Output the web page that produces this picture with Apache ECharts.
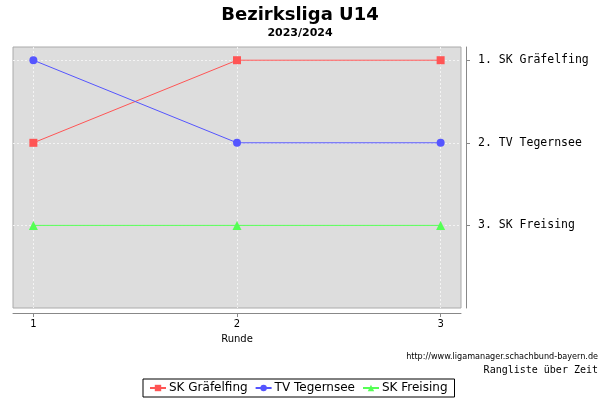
<!DOCTYPE html>
<html><head><meta charset="utf-8">
<script src="https://cdn.jsdelivr.net/npm/echarts@6/dist/echarts.min.js"></script>
<style>html,body{margin:0;padding:0;background:#fff}#c{width:600px;height:400px}</style>
</head><body><div id="c"></div>
<script>
const rounds = [1, 2, 3];
const teams = ['SK Gräfelfing', 'TV Tegernsee', 'SK Freising'];
const rankLabels = ['1. SK Gräfelfing', '2. TV Tegernsee', '3. SK Freising'];
const grafelfing = [2, 1, 1];
const tegernsee = [1, 2, 2];
const freising = [3, 3, 3];
const colors = ['#ff5555', '#5555ff', '#55ff55'];
const symbols = ['rect', 'circle', 'triangle'];
const seriesData = [grafelfing, tegernsee, freising];

const chart = echarts.init(document.getElementById('c'));
chart.setOption({
  animation: false,
  title: [
    {text: 'Bezirksliga U14', left: 'center', top: 1,
     textStyle: {fontFamily: 'DejaVu Sans', fontSize: 18, fontWeight: 'bold', color: '#000'}},
    {text: '2023/2024', left: 'center', top: 23,
     textStyle: {fontFamily: 'DejaVu Sans', fontSize: 11, fontWeight: 'bold', color: '#000'}},
    {text: 'http://www.ligamanager.schachbund-bayern.de', right: 2, top: 352, padding: 0,
     textStyle: {fontFamily: 'DejaVu Sans Condensed', fontSize: 9, fontWeight: 'normal', color: '#000'}},
    {text: 'Rangliste über Zeit', right: 2, top: 365, padding: 0,
     textStyle: {fontFamily: 'DejaVu Sans Mono', fontSize: 10, fontWeight: 'normal', color: '#000'}}
  ],
  legend: {
    data: teams, bottom: 3, left: 143,
    borderColor: '#000', borderWidth: 1, borderRadius: 0,
    padding: [3, 7, 3, 6], itemGap: 7, itemWidth: 16, itemHeight: 8,
    textStyle: {fontFamily: 'DejaVu Sans', fontSize: 12, color: '#000', padding: [0, 0, 0, -2]}
  },
  grid: {left: 13, right: 139, top: 47, bottom: 92, show: true,
    backgroundColor: '#dddddd', borderColor: '#aaaaaa', borderWidth: 1},
  xAxis: {
    type: 'value', min: 0.9, max: 3.1, offset: 5,
    name: 'Runde', nameLocation: 'middle', nameGap: 21,
    nameTextStyle: {fontFamily: 'DejaVu Sans', fontSize: 10, color: '#000'},
    axisLine: {show: true, lineStyle: {color: '#888'}},
    axisTick: {show: true, customValues: rounds, length: 4, lineStyle: {color: '#888'}},
    axisLabel: {customValues: rounds, fontFamily: 'DejaVu Sans', fontSize: 10, color: '#000', margin: 6},
    splitLine: {show: true, lineStyle: {color: '#f4f4f4', type: [2, 2], width: 1}}
  },
  yAxis: {
    type: 'value', position: 'right', inverse: true, min: 0.84, max: 4, offset: 5,
    axisLine: {show: true, lineStyle: {color: '#888'}},
    axisTick: {show: true, customValues: [1, 2, 3], length: 4, inside: false, lineStyle: {color: '#888'}},
    axisLabel: {customValues: [1, 2, 3], fontFamily: 'DejaVu Sans Mono', fontSize: 11.5, color: '#000', margin: 12,
      formatter: v => rankLabels[v - 1] || ''},
    splitLine: {show: true, lineStyle: {color: '#f4f4f4', type: [2, 2], width: 1}}
  },
  series: teams.map((t, i) => ({
    name: t, type: 'line', data: rounds.map((r, j) => [r, seriesData[i][j]]),
    symbol: symbols[i], symbolSize: i === 2 ? 9 : 8, showSymbol: true,
    itemStyle: {color: colors[i]}, lineStyle: {color: colors[i], width: 1}
  }))
});
</script></body></html>
